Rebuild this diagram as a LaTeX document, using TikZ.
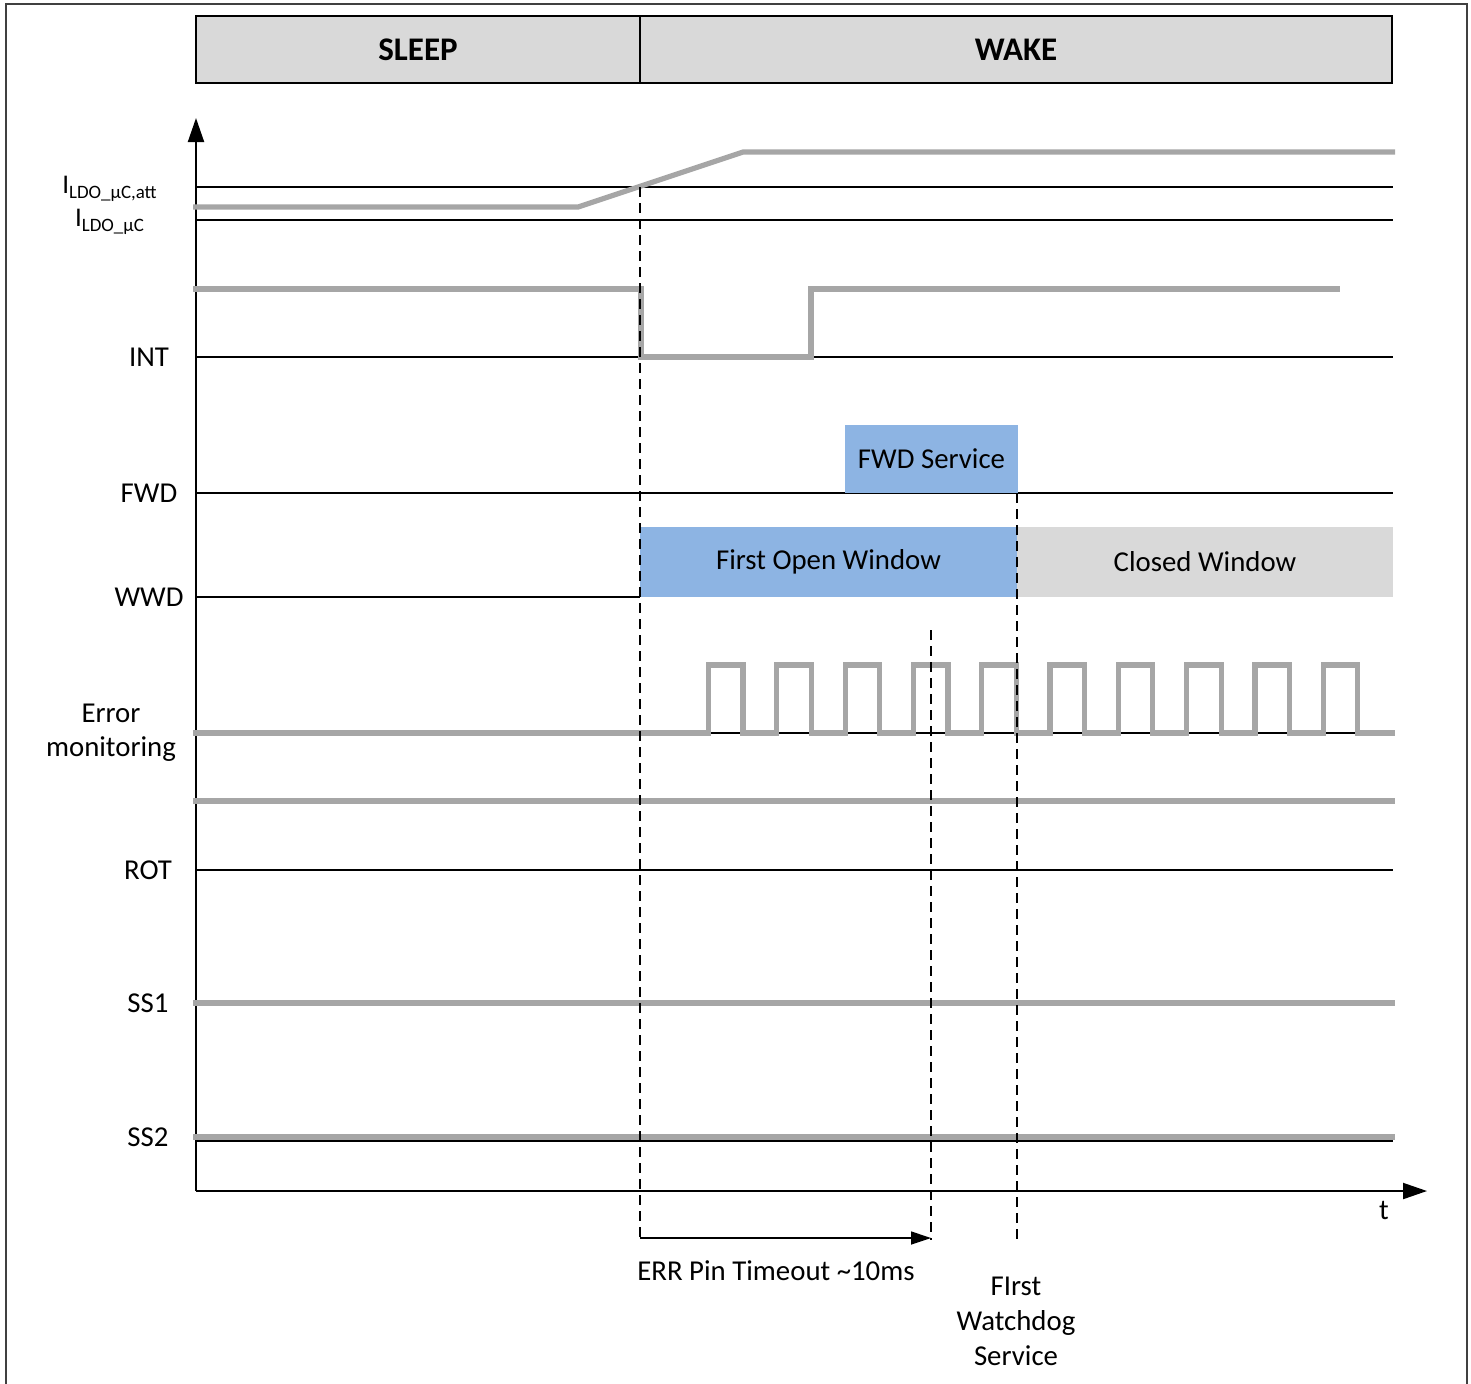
\documentclass[tikz,border=0pt]{standalone}
\usepackage{fontspec}
\setmainfont{Carlito}
\usepackage{tikz}
\usetikzlibrary{positioning, arrows.meta, calc}

\definecolor{sigGray}{RGB}{166,166,166}
\definecolor{hdrGray}{RGB}{217,217,217}
\definecolor{winBlue}{RGB}{141,180,227}

\begin{document}
\begin{tikzpicture}[
    x=0.5pt, y=-0.5pt,
    font=\fontsize{14.4}{17}\selectfont,
    hdrstyle/.style={draw=black, fill=hdrGray, line width=1.1pt, minimum height=33.5pt,
        inner sep=0pt, outer sep=0pt, font=\fontsize{16.5}{20}\selectfont\bfseries},
    winstyle/.style={fill=winBlue, minimum height=35pt, inner sep=0pt, outer sep=0pt},
    shutstyle/.style={fill=hdrGray, minimum height=35pt, inner sep=0pt, outer sep=0pt},
    baseline/.style={draw=black, line width=0.9pt},
    sigline/.style={draw=sigGray, line width=2.6pt},
    marker/.style={draw=black, line width=0.9pt, dash pattern=on 5pt off 3pt},
    axis/.style={-{Triangle[length=12pt, width=8pt]}, line width=1pt},
    lbl/.style={inner sep=0pt, align=center}
  ]
    \useasboundingbox (0,0) rectangle (1471,1383);
    \draw[black!75, line width=0.6pt] (6,1400) -- (6,4) -- (1467,4) -- (1467,1400);

    % phase header
    \node[hdrstyle, minimum width=222pt] (sleep) at (418,49.5) {SLEEP};
    \node[hdrstyle, minimum width=376pt] (wake) at (1016,49.5) {WAKE};

    % axes
    \coordinate (O) at (196,1191);
    \coordinate (ytip) at (196,118);
    \coordinate (xtip) at (1427,1191);
    \draw[axis] (O) -- (ytip);
    \draw[axis] (O) -- (xtip);
    \node[lbl] (tlab) at (1384,1210) {t};

    % signal labels
    \node[lbl, font=\fontsize{13.5}{17}\selectfont] (iatt) at (110,189) {I\textsubscript{LDO\_µC,att}};
    \node[lbl, font=\fontsize{13.5}{17}\selectfont] (iuc) at (110,222) {I\textsubscript{LDO\_µC}};
    \node[lbl] (int) at (149,357) {INT};
    \node[lbl] (fwd) at (149,493) {FWD};
    \node[lbl] (wwd) at (149,597) {WWD};
    \node[lbl] (err) at (111,733) {Error\\monitoring};
    \node[lbl] (rot) at (148,870) {ROT};
    \node[lbl] (ss1) at (148,1003) {SS1};
    \node[lbl] (ss2) at (148,1137) {SS2};

    % reference levels
    \draw[baseline] (196,187) -- (1393,187);
    \draw[baseline] (196,220) -- (1393,220);
    \draw[baseline] (196,357) -- (1393,357);
    \draw[baseline] (196,493) -- (1393,493);
    \draw[baseline] (196,597) -- (640,597);
    \draw[baseline] (196,733) -- (1393,733);
    \draw[baseline] (196,870) -- (1393,870);
    \draw[baseline] (196,1141) -- (1393,1141);

    % windows
    \node[winstyle, minimum width=86.5pt, minimum height=34pt] (fwdsvc) at (931.5,459) {FWD Service};
    \node[winstyle, minimum width=188.5pt] (openwin) at (828.5,562) {First Open Window};
    \node[shutstyle, minimum width=188pt] (closedwin) at (1205,562) {Closed Window};

    % signals
    \draw[sigline] (193,207) -- (578,207) -- (743,152) -- (1395,152);
    \draw[sigline] (193,289) -- (641,289) -- (641,357) -- (811,357) -- (811,289) -- (1340,289);
    \draw[sigline] (193,733) -- (708.5,733)
        foreach \k in {1,...,10} { -- ++(0,-68) -- ++(34.5,0) -- ++(0,68) -- ++(33.8,0) }
        -- (1395,733);
    \draw[sigline] (193,801) -- (1395,801);
    \draw[sigline] (193,1003) -- (1395,1003);
    \draw[sigline] (193,1137) -- (1395,1137);

    % event markers
    \coordinate (wakeT) at (640,187);
    \coordinate (wakeB) at (640,1240);
    \coordinate (errT) at (931,630);
    \coordinate (errB) at (931,1240);
    \coordinate (wdT) at (1017,493);
    \coordinate (wdB) at (1017,1243);
    \draw[marker] (wakeT) -- (wakeB);
    \draw[marker] (errT) -- (errB);
    \draw[marker] (wdT) -- (wdB);

    % timeout span
    \coordinate (spanA) at (640,1238);
    \coordinate (spanB) at (931,1238);
    \draw[-{Triangle[length=10pt, width=6.5pt]}, line width=0.8pt] (spanA) -- (spanB);
    \node[lbl, anchor=west] (tolab) at (637,1271) {ERR Pin Timeout \textasciitilde10ms};
    \node[lbl, font=\fontsize{14.4}{17.5}\selectfont] (wdlab) at (1016,1321) {FIrst\\Watchdog\\Service};
\end{tikzpicture}
\end{document}
